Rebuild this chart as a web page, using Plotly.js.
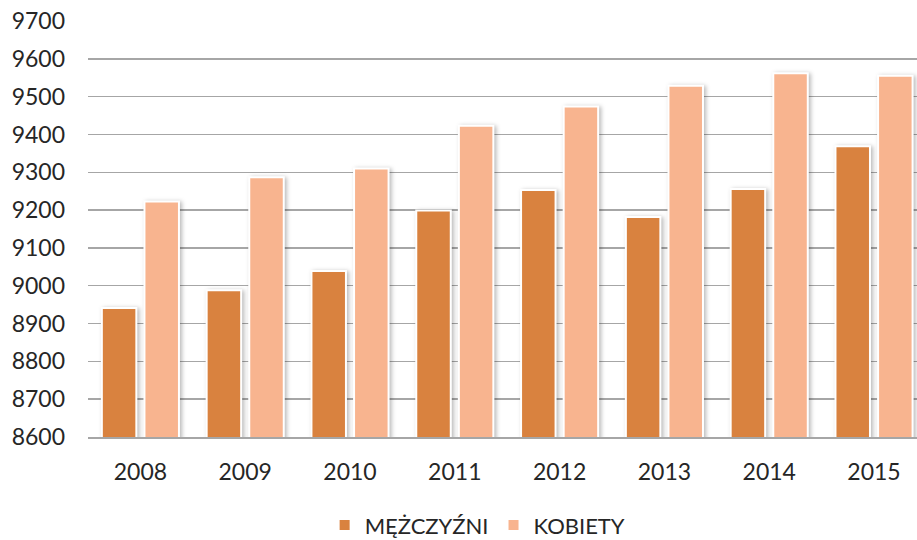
<!DOCTYPE html>
<html>
<head>
<meta charset="utf-8">
<script src="https://cdn.plot.ly/plotly-3.0.1.min.js"></script>
<style>
html,body{margin:0;padding:0;background:#fff;}
#chart{width:917px;height:540px;}
.barlayer .point path{filter:drop-shadow(2px 1px 2px rgba(0,0,0,0.28));}
</style>
</head>
<body>
<div id="chart"></div>
<script>
var years = ['2008', '2009', '2010', '2011', '2012', '2013', '2014', '2015'];
var men = [8941, 8988, 9039, 9199, 9253, 9182, 9256, 9369];
var women = [9223, 9287, 9310, 9423, 9474, 9529, 9562, 9555];
var seriesNames = ['MĘŻCZYŹNI', 'KOBIETY'];
var yTicks = [8600, 8700, 8800, 8900, 9000, 9100, 9200, 9300, 9400, 9500, 9600, 9700];

var font = 'Lato, "Open Sans", sans-serif';
var traces = [
  {type: 'bar', name: seriesNames[0], x: years, y: men,
   marker: {color: '#D9823F', line: {color: '#FFFFFF', width: 2}}},
  {type: 'bar', name: seriesNames[1], x: years, y: women,
   marker: {color: '#F8B48F', line: {color: '#FFFFFF', width: 2}}}
];
var layout = {
  width: 917, height: 540,
  margin: {l: 88, r: 0, t: 21, b: 103},
  paper_bgcolor: '#FFFFFF', plot_bgcolor: '#FFFFFF',
  barmode: 'group', bargap: 0.187, bargroupgap: 0.19,
  font: {family: font, color: '#262626', size: 23},
  xaxis: {
    type: 'category', range: [-0.5, 7.41], showgrid: false, zeroline: false,
    showline: true, linecolor: '#A6A6A6', linewidth: 1.5,
    ticks: '', ticklabelstandoff: 14,
    tickfont: {family: font, size: 23, color: '#262626'}
  },
  yaxis: {
    range: [8600, 9700], tickvals: yTicks, ticktext: yTicks.map(String),
    showgrid: true, gridcolor: '#A6A6A6', gridwidth: 1.5,
    zeroline: false, showline: false, ticks: '', ticklabelstandoff: 22,
    tickfont: {family: font, size: 23, color: '#262626'}
  },
  showlegend: true,
  legend: {orientation: 'h', x: 0.47, xanchor: 'center', y: -0.145, yanchor: 'top',
           font: {family: font, size: 22, color: '#262626'}, itemwidth: 30, traceorder: 'normal'}
};
Plotly.newPlot('chart', traces, layout, {displayModeBar: false, staticPlot: true}).then(function (gd) {
  var lg = gd.querySelector('g.legend');
  if (lg) {
    var t = lg.getAttribute('transform') || '';
    var m = t.match(/translate\(\s*([-\d.]+)[ ,]+([-\d.]+)\s*\)/);
    if (m) lg.setAttribute('transform', 'translate(' + m[1] + ',' + (parseFloat(m[2]) + 7) + ')');
  }
});
</script>
</body>
</html>
